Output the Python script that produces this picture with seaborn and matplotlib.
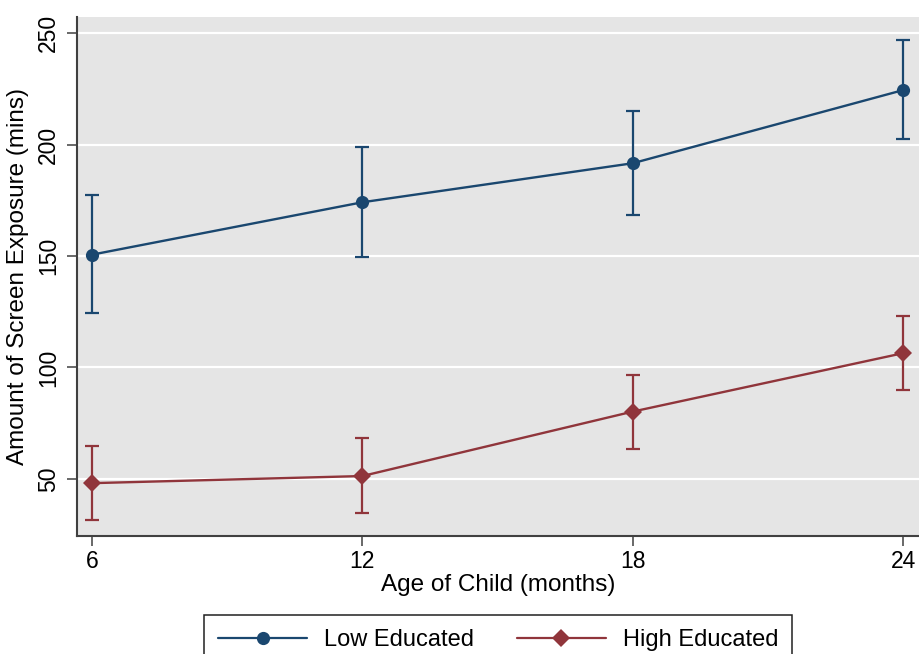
import pandas as pd
import numpy as np
import matplotlib
matplotlib.use("Agg")
import matplotlib.pyplot as plt
import seaborn as sns

# data

ages = [6, 12, 18, 24]
low_mean = [150.6, 174.1, 191.6, 224.4]
low_lo = [124.6, 149.4, 168.2, 202.3]
low_hi = [177.4, 198.7, 214.9, 246.9]
high_mean = [48.1, 51.3, 80.2, 106.4]
high_lo = [31.5, 34.9, 63.3, 89.8]
high_hi = [64.9, 68.3, 96.6, 123.1]
groups = ["Low Educated", "High Educated"]
y_ticks = [50, 100, 150, 200, 250]

navy = "#1a476f"
maroon = "#90353b"

df = pd.DataFrame({
    "age": ages * 2,
    "mean": low_mean + high_mean,
    "lo": low_lo + high_lo,
    "hi": low_hi + high_hi,
    "group": [groups[0]] * 4 + [groups[1]] * 4,
})

sns.set_style("white", {"axes.facecolor": "#e5e5e5"})
plt.rcParams["font.family"] = ["Liberation Sans", "DejaVu Sans"]
plt.rcParams["text.color"] = "black"
plt.rcParams["axes.labelcolor"] = "black"
plt.rcParams["xtick.color"] = "black"
plt.rcParams["ytick.color"] = "black"

fig = plt.figure(figsize=(9.19, 6.54), dpi=100)
ax = fig.add_axes([77 / 919, 1 - 536 / 654, 1 - 77 / 919, (536 - 17) / 654])

for y in y_ticks:
    ax.axhline(y, color="white", lw=1.6, zorder=0)

# error bars first so the markers sit on top
for g, c in zip(groups, [navy, maroon]):
    d = df[df["group"] == g]
    ax.errorbar(d["age"], d["mean"],
                yerr=[d["mean"] - d["lo"], d["hi"] - d["mean"]],
                fmt="none", ecolor=c, elinewidth=1.6, capsize=4.8,
                capthick=1.6, zorder=2)

sns.lineplot(data=df, x="age", y="mean", hue="group", style="group",
             hue_order=groups, style_order=groups,
             palette={groups[0]: navy, groups[1]: maroon},
             markers={groups[0]: "o", groups[1]: "D"}, dashes=False,
             markersize=9.5, markeredgewidth=0, linewidth=1.7,
             ax=ax, zorder=3)

handles, labels = ax.get_legend_handles_labels()
ax.get_legend().remove()
for h in handles:
    h.set_markeredgewidth(0)
    h.set_linewidth(1.6)
handles[1].set_markersize(9)

ax.set_xlim(5.667, 24.354)
ax.set_ylim(24.4, 257.2)
ax.set_xticks(ages)
ax.set_yticks(y_ticks)
ax.grid(False)

for side in ["top", "right"]:
    ax.spines[side].set_visible(False)
for side in ["left", "bottom"]:
    ax.spines[side].set_color("#404040")
    ax.spines[side].set_linewidth(1.5)

ax.tick_params(axis="both", direction="out", length=7, width=1.1,
               color="#404040", labelcolor="black", labelsize=16.5,
               left=True, bottom=True)
ax.tick_params(axis="y", pad=5)
ax.tick_params(axis="x", pad=3)
for t in ax.get_yticklabels():
    t.set_rotation(90)
    t.set_va("center")

ax.set_xlabel("Age of Child (months)", fontsize=17.5, labelpad=1, color="black")
ax.set_ylabel("Amount of Screen Exposure (mins)", fontsize=17.5, labelpad=6,
              color="black")

leg = fig.legend(handles, labels, loc="upper center", ncol=2,
                 bbox_to_anchor=(498 / 919, 1 - 615 / 654), fontsize=17,
                 frameon=True, fancybox=False, edgecolor="#202020",
                 facecolor="white", handlelength=3.8, handletextpad=0.7,
                 columnspacing=1.8, borderpad=0.6, borderaxespad=0,
                 framealpha=1)
leg.get_frame().set_linewidth(1.1)
for t in leg.get_texts():
    t.set_color("black")

fig.savefig("out.png", dpi=100)
